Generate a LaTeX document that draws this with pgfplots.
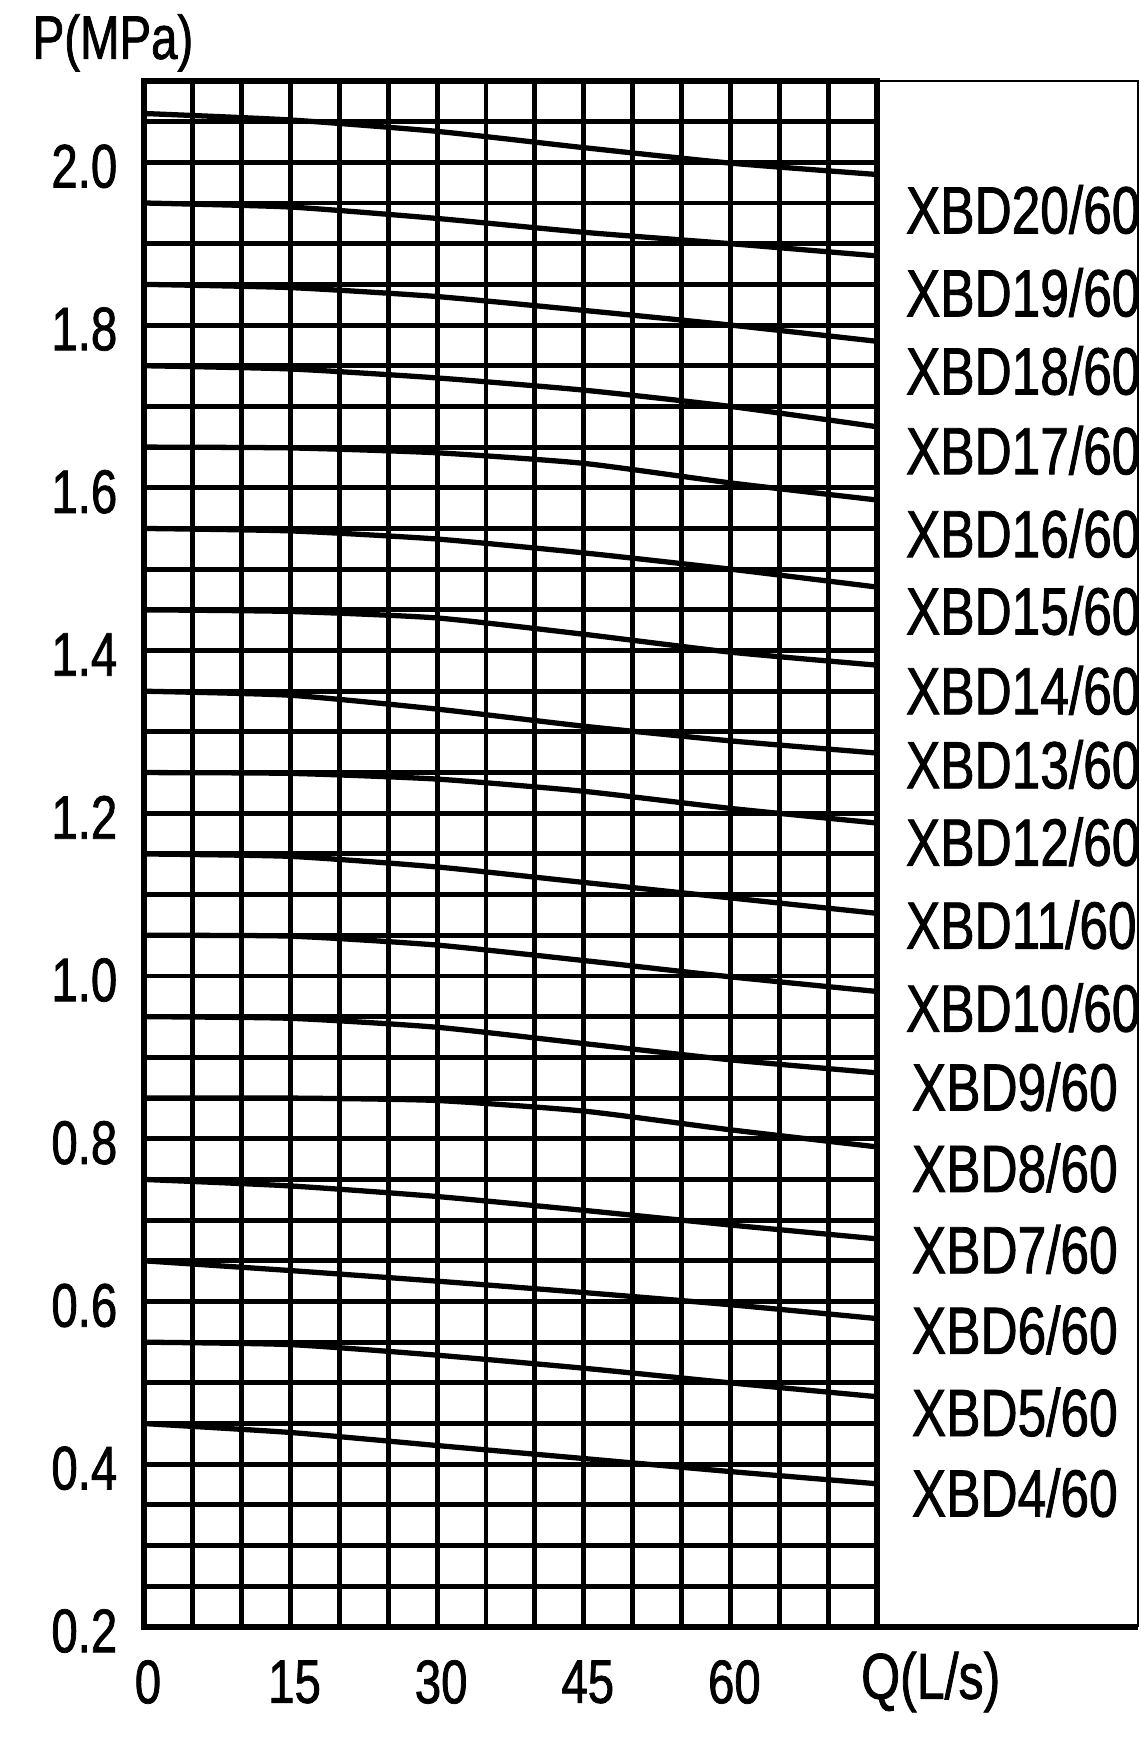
\documentclass[border=0pt]{standalone}
\usepackage{fontspec}
\setmainfont{Liberation Sans}[FakeStretch=0.77, FakeBold=1.2]
\usepackage{pgfplots}
\pgfplotsset{compat=1.18}
\begin{document}
\begin{tikzpicture}
\begin{axis}[
  scale only axis,
  width=73.3mm, height=154.6mm,
  xmin=0, xmax=75, ymin=0.2, ymax=2.1,
  xtick={0,15,30,45,60},
  ytick={0.2,0.4,0.6,0.8,1.0,1.2,1.4,1.6,1.8,2.0},
  minor xtick={5,10,20,25,35,40,50,55,65,70},
  minor ytick={0.25,0.3,0.35,0.45,0.5,0.55,0.65,0.7,0.75,0.85,0.9,0.95,1.05,1.1,1.15,1.25,1.3,1.35,1.45,1.5,1.55,1.65,1.7,1.75,1.85,1.9,1.95,2.05},
  grid=both,
  major grid style={line width=1.4pt, black},
  minor grid style={line width=1.4pt, black},
  major tick length=0pt, minor tick length=0pt,
  axis line style={line width=1.6pt, black},
  tick label style={font=\fontsize{17.5}{20}\selectfont, inner sep=0pt},
  xticklabel style={anchor=center, yshift=-5.5mm, xshift=0.4mm},
  yticklabel style={anchor=east, xshift=-2.6mm, yshift=-0.4mm, /pgf/number format/fixed, /pgf/number format/fixed zerofill, /pgf/number format/precision=1},
  /pgf/number format/assume math mode=true,
  clip=false,
  cycle list={black,solid,line width=1.5pt,mark=none,smooth,tension=0.35\\},
]
% XBD20
\addplot coordinates {(0,2.06)(15,2.052)(30,2.038)(45,2.018)(60,1.999)(75,1.985)};
% XBD19
\addplot coordinates {(0,1.95)(15,1.945)(30,1.931)(45,1.914)(60,1.90)(75,1.885)};
% XBD18
\addplot coordinates {(0,1.85)(15,1.846)(30,1.835)(45,1.818)(60,1.80)(75,1.78)};
% XBD17
\addplot coordinates {(0,1.75)(15,1.746)(30,1.735)(45,1.72)(60,1.70)(75,1.675)};
% XBD16
\addplot coordinates {(0,1.65)(15,1.649)(30,1.643)(45,1.63)(60,1.606)(75,1.585)};
% XBD15
\addplot coordinates {(0,1.55)(15,1.547)(30,1.537)(45,1.52)(60,1.50)(75,1.478)};
% XBD14
\addplot coordinates {(0,1.45)(15,1.448)(30,1.44)(45,1.42)(60,1.398)(75,1.382)};
% XBD13
\addplot coordinates {(0,1.35)(15,1.345)(30,1.328)(45,1.307)(60,1.289)(75,1.274)};
% XBD12
\addplot coordinates {(0,1.25)(15,1.249)(30,1.242)(45,1.227)(60,1.206)(75,1.188)};
% XBD11
\addplot coordinates {(0,1.15)(15,1.147)(30,1.134)(45,1.115)(60,1.096)(75,1.077)};
% XBD10
\addplot coordinates {(0,1.05)(15,1.049)(30,1.038)(45,1.019)(60,0.999)(75,0.981)};
% XBD9
\addplot coordinates {(0,0.95)(15,0.948)(30,0.937)(45,0.917)(60,0.897)(75,0.881)};
% XBD8
\addplot coordinates {(0,0.85)(15,0.85)(30,0.847)(45,0.834)(60,0.811)(75,0.79)};
% XBD7
\addplot coordinates {(0,0.75)(15,0.742)(30,0.729)(45,0.712)(60,0.694)(75,0.677)};
% XBD6
\addplot coordinates {(0,0.65)(15,0.638)(30,0.625)(45,0.611)(60,0.596)(75,0.579)};
% XBD5
\addplot coordinates {(0,0.55)(15,0.547)(30,0.534)(45,0.518)(60,0.50)(75,0.483)};
% XBD4
\addplot coordinates {(0,0.45)(15,0.439)(30,0.423)(45,0.407)(60,0.391)(75,0.376)};

% legend box
\draw[line width=0.8pt] (axis cs:75,2.1) -- (axis cs:101.7,2.1) -- (axis cs:101.7,0.2);
\draw[line width=1.6pt] (axis cs:75,0.2) -- (axis cs:101.7,0.2);

\begin{scope}[every node/.style={anchor=west, inner sep=0pt, font=\fontsize{19}{22}\selectfont}]
\node at (axis cs:77.9,1.942) {XBD20/60};
\node at (axis cs:77.9,1.840) {XBD19/60};
\node at (axis cs:77.9,1.744) {XBD18/60};
\node at (axis cs:77.9,1.646) {XBD17/60};
\node at (axis cs:77.9,1.544) {XBD16/60};
\node at (axis cs:77.9,1.449) {XBD15/60};
\node at (axis cs:77.9,1.351) {XBD14/60};
\node at (axis cs:77.9,1.260) {XBD13/60};
\node at (axis cs:77.9,1.165) {XBD12/60};
\node at (axis cs:77.9,1.063) {XBD11/60};
\node at (axis cs:77.9,0.961) {XBD10/60};
\node at (axis cs:78.5,0.864) {XBD9/60};
\node at (axis cs:78.5,0.764) {XBD8/60};
\node at (axis cs:78.5,0.664) {XBD7/60};
\node at (axis cs:78.5,0.565) {XBD6/60};
\node at (axis cs:78.5,0.464) {XBD5/60};
\node at (axis cs:78.5,0.365) {XBD4/60};
\end{scope}

\node[font=\fontsize{17.5}{20}\selectfont, inner sep=0pt] at (axis cs:-3.17,2.1467) {P(MPa)};
\node[font=\fontsize{18.5}{21}\selectfont, inner sep=0pt, anchor=center, yshift=-5.5mm] at (axis cs:80.5,0.2) {Q(L/s)};

\coordinate (bl) at (axis cs:-14.73,0.0611);
\coordinate (tr) at (axis cs:102.0,2.1995);
\end{axis}
\path (bl) rectangle (tr);
\end{tikzpicture}
\end{document}
